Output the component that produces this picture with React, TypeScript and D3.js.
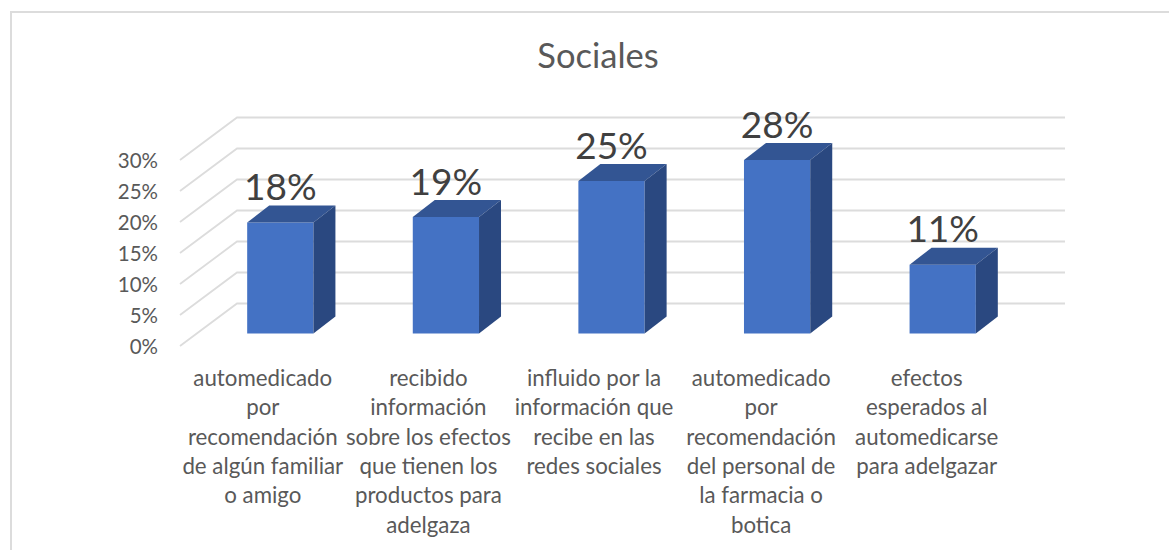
import React from "react";
import * as d3 from "d3";

const chartTitle = "Sociales";
const categoryLines = [
  ["automedicado", "por", "recomendación", "de algún familiar", "o amigo"],
  ["recibido", "información", "sobre los efectos", "que tienen los", "productos para", "adelgaza"],
  ["influido por la", "información que", "recibe en las", "redes sociales"],
  ["automedicado", "por", "recomendación", "del personal de", "la farmacia o", "botica"],
  ["efectos", "esperados al", "automedicarse", "para adelgazar"],
];
const values = [0.179, 0.188, 0.246, 0.28, 0.111];
const tickValues = [0, 0.05, 0.1, 0.15, 0.2, 0.25, 0.3];

const FONT = "Lato, 'Open Sans', sans-serif";
const depth = { dx: 57, dy: -42.5 };
const gap = { dx: 17.5, dy: -12.5 };
const bar = { dx: 22, dy: -17 };

export default function App() {
  const keys = categoryLines.map((_, i) => String(i));
  const x = d3.scaleBand<string>().domain(keys).range([180, 1008]).paddingInner(0.6).paddingOuter(0.3);
  const y = d3.scaleLinear().domain([0, 0.3]).range([346, 160]);
  const pct = d3.format(".0%");
  const poly = d3.line();
  const lineStep = 29.35;

  return (
    <svg width={1169} height={550} style={{ position: "absolute", left: 0, top: 0, background: "#fff" }}>
      <path d="M1169,12 H11 V550" fill="none" stroke="#dcdcdc" strokeWidth={2} />
      <text x={598} y={67.5} textAnchor="middle" fontFamily={FONT} fontSize={34.5} fill="#595959">{chartTitle}</text>

      {tickValues.map((t) => (
        <g key={t}>
          <path
            d={poly([[180, y(t)], [180 + depth.dx, y(t) + depth.dy], [1065, y(t) + depth.dy]]) as string}
            fill="none"
            stroke="#dcdcdc"
            strokeWidth={1.8}
          />
          <text x={158} y={y(t) + 8} textAnchor="end" fontFamily={FONT} fontSize={20.5} fill="#595959">{pct(t)}</text>
        </g>
      ))}

      {values.map((v, i) => {
        const l = (x(keys[i]) as number) + gap.dx;
        const r = l + x.bandwidth();
        const b = y(0) + gap.dy;
        const t = y(v) + gap.dy;
        return (
          <g key={i}>
            <path d={poly([[l, b], [r, b], [r, t], [l, t]]) + "Z"} fill="#4472c4" />
            <path d={poly([[l, t], [r, t], [r + bar.dx, t + bar.dy], [l + bar.dx, t + bar.dy]]) + "Z"} fill="#335593" />
            <path d={poly([[r, b], [r, t], [r + bar.dx, t + bar.dy], [r + bar.dx, b + bar.dy]]) + "Z"} fill="#2a4880" />
            <text x={(l + r) / 2} y={t - 22.2} textAnchor="middle" fontFamily={FONT} fontSize={37} fill="#404040">{pct(v)}</text>
          </g>
        );
      })}

      {categoryLines.map((lines, i) => (
        <text key={i} textAnchor="middle" fontFamily={FONT} fontSize={22.3} fill="#595959">
          {lines.map((s, j) => (
            <tspan key={j} x={(x(keys[i]) as number) + x.bandwidth() / 2 + (i > 2 ? 1.5 : 0)} y={386 + j * lineStep}>{s}</tspan>
          ))}
        </text>
      ))}
    </svg>
  );
}
